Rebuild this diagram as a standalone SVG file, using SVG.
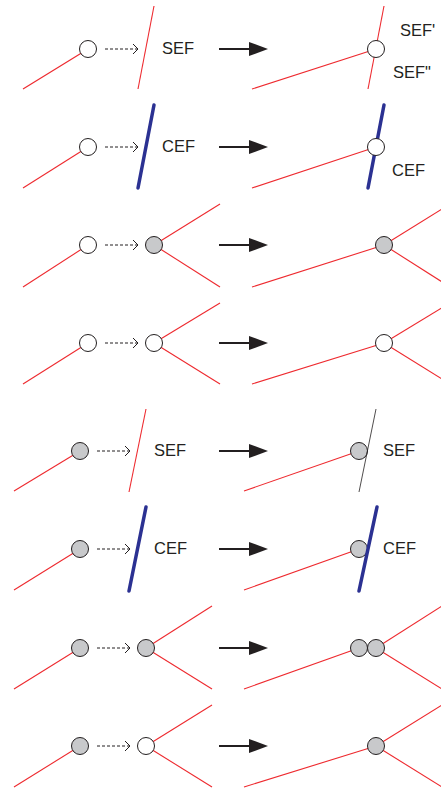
<svg xmlns="http://www.w3.org/2000/svg" width="441" height="789" viewBox="0 0 441 789">
<style>
.red{stroke:#ee2a2f;stroke-width:1.1;fill:none}
.blue{stroke:#2b3192;stroke-width:3.5;stroke-linecap:round;fill:none}
.blk{stroke:#231f20;stroke-width:0.8;fill:none}
.w{fill:#ffffff;stroke:#231f20;stroke-width:1}
.g{fill:#c8c9cb;stroke:#231f20;stroke-width:1}
.dash{stroke:#231f20;stroke-width:1;stroke-dasharray:3 2;fill:none}
.chev{stroke:#231f20;stroke-width:1;fill:none}
.big{stroke:#231f20;stroke-width:2;fill:none}
.head{fill:#231f20}
text{font-family:"Liberation Sans",Arial,sans-serif;font-size:16.5px;fill:#231f20}
</style>
<defs>
<g id="dashArrow"><line class="dash" x1="0" y1="0" x2="32" y2="0"/><polyline class="chev" points="28,-5 33,0 28,5"/></g>
<g id="bigArrow"><line class="big" x1="0" y1="0" x2="32" y2="0"/><polygon class="head" points="30,-7 49,0 30,7"/></g>
</defs>
<g id="connectors">
<use href="#dashArrow" x="105" y="49"/>
<use href="#dashArrow" x="105" y="147"/>
<use href="#dashArrow" x="105" y="245"/>
<use href="#dashArrow" x="105" y="343"/>
<use href="#dashArrow" x="97" y="451"/>
<use href="#dashArrow" x="97" y="549"/>
<use href="#dashArrow" x="97" y="648"/>
<use href="#dashArrow" x="97" y="746"/>
<use href="#bigArrow" x="219" y="49"/>
<use href="#bigArrow" x="219" y="147"/>
<use href="#bigArrow" x="219" y="245"/>
<use href="#bigArrow" x="219" y="343"/>
<use href="#bigArrow" x="219" y="451"/>
<use href="#bigArrow" x="219" y="549"/>
<use href="#bigArrow" x="219" y="648"/>
<use href="#bigArrow" x="219" y="746"/>
</g>
<g id="row1">
<line class="red" x1="23" y1="89" x2="88" y2="49"/>
<circle class="w" cx="88" cy="49" r="8.5"/>
<line class="red" x1="154" y1="6" x2="138" y2="89"/>
<text x="162" y="54">SEF</text>
<line class="red" x1="252" y1="89" x2="376" y2="49"/>
<line class="red" x1="384" y1="6" x2="368" y2="89"/>
<circle class="w" cx="376" cy="49" r="8.5"/>
<text x="400" y="36">SEF'</text>
<text x="393" y="78">SEF"</text>
</g>
<g id="row2">
<line class="red" x1="23" y1="188" x2="88" y2="147"/>
<circle class="w" cx="88" cy="147" r="8.5"/>
<line class="blue" x1="154" y1="105" x2="138" y2="188"/>
<text x="162" y="152">CEF</text>
<line class="red" x1="252" y1="188" x2="376" y2="147"/>
<line class="blue" x1="384" y1="105" x2="368" y2="188"/>
<circle class="w" cx="376" cy="147" r="8.5"/>
<text x="392" y="176">CEF</text>
</g>
<g id="row3">
<line class="red" x1="23" y1="287" x2="88" y2="245"/>
<circle class="w" cx="88" cy="245" r="8.5"/>
<line class="red" x1="154" y1="245" x2="220" y2="204"/>
<line class="red" x1="154" y1="245" x2="220" y2="287"/>
<circle class="g" cx="154" cy="245" r="8.5"/>
<line class="red" x1="252" y1="287" x2="384" y2="245"/>
<line class="red" x1="384" y1="245" x2="450" y2="204"/>
<line class="red" x1="384" y1="245" x2="450" y2="287"/>
<circle class="g" cx="384" cy="245" r="8.5"/>
</g>
<g id="row4">
<line class="red" x1="23" y1="384" x2="88" y2="343"/>
<circle class="w" cx="88" cy="343" r="8.5"/>
<line class="red" x1="154" y1="343" x2="220" y2="303"/>
<line class="red" x1="154" y1="343" x2="220" y2="384"/>
<circle class="w" cx="154" cy="343" r="8.5"/>
<line class="red" x1="252" y1="384" x2="384" y2="343"/>
<line class="red" x1="384" y1="343" x2="450" y2="303"/>
<line class="red" x1="384" y1="343" x2="450" y2="384"/>
<circle class="w" cx="384" cy="343" r="8.5"/>
</g>
<g id="row5">
<line class="red" x1="14" y1="491" x2="80" y2="451"/>
<circle class="g" cx="80" cy="451" r="8.5"/>
<line class="red" x1="146" y1="409" x2="129" y2="492"/>
<text x="154" y="456">SEF</text>
<line class="red" x1="244" y1="491" x2="359" y2="451"/>
<circle class="g" cx="359" cy="451" r="8.5"/>
<line class="blk" x1="376" y1="409" x2="359" y2="492"/>
<text x="383" y="456">SEF</text>
</g>
<g id="row6">
<line class="red" x1="14" y1="590" x2="80" y2="549"/>
<circle class="g" cx="80" cy="549" r="8.5"/>
<line class="blue" x1="146" y1="507" x2="129" y2="591"/>
<text x="154" y="554">CEF</text>
<line class="red" x1="244" y1="590" x2="359" y2="549"/>
<circle class="g" cx="359" cy="549" r="8.5"/>
<line class="blue" x1="377" y1="507" x2="359" y2="591"/>
<text x="383" y="554">CEF</text>
</g>
<g id="row7">
<line class="red" x1="14" y1="689" x2="80" y2="648"/>
<circle class="g" cx="80" cy="648" r="8.5"/>
<line class="red" x1="146" y1="648" x2="212" y2="606"/>
<line class="red" x1="146" y1="648" x2="212" y2="689"/>
<circle class="g" cx="146" cy="648" r="8.5"/>
<line class="red" x1="244" y1="689" x2="359" y2="648"/>
<line class="red" x1="376" y1="648" x2="442" y2="606"/>
<line class="red" x1="376" y1="648" x2="442" y2="689"/>
<circle class="g" cx="359" cy="648" r="8.5"/>
<circle class="g" cx="376" cy="648" r="8.5"/>
</g>
<g id="row8">
<line class="red" x1="14" y1="787" x2="80" y2="746"/>
<circle class="g" cx="80" cy="746" r="8.5"/>
<line class="red" x1="146" y1="746" x2="212" y2="705"/>
<line class="red" x1="146" y1="746" x2="212" y2="787"/>
<circle class="w" cx="146" cy="746" r="8.5"/>
<line class="red" x1="244" y1="787" x2="376" y2="746"/>
<line class="red" x1="376" y1="746" x2="442" y2="705"/>
<line class="red" x1="376" y1="746" x2="442" y2="787"/>
<circle class="g" cx="376" cy="746" r="8.5"/>
</g>
</svg>
